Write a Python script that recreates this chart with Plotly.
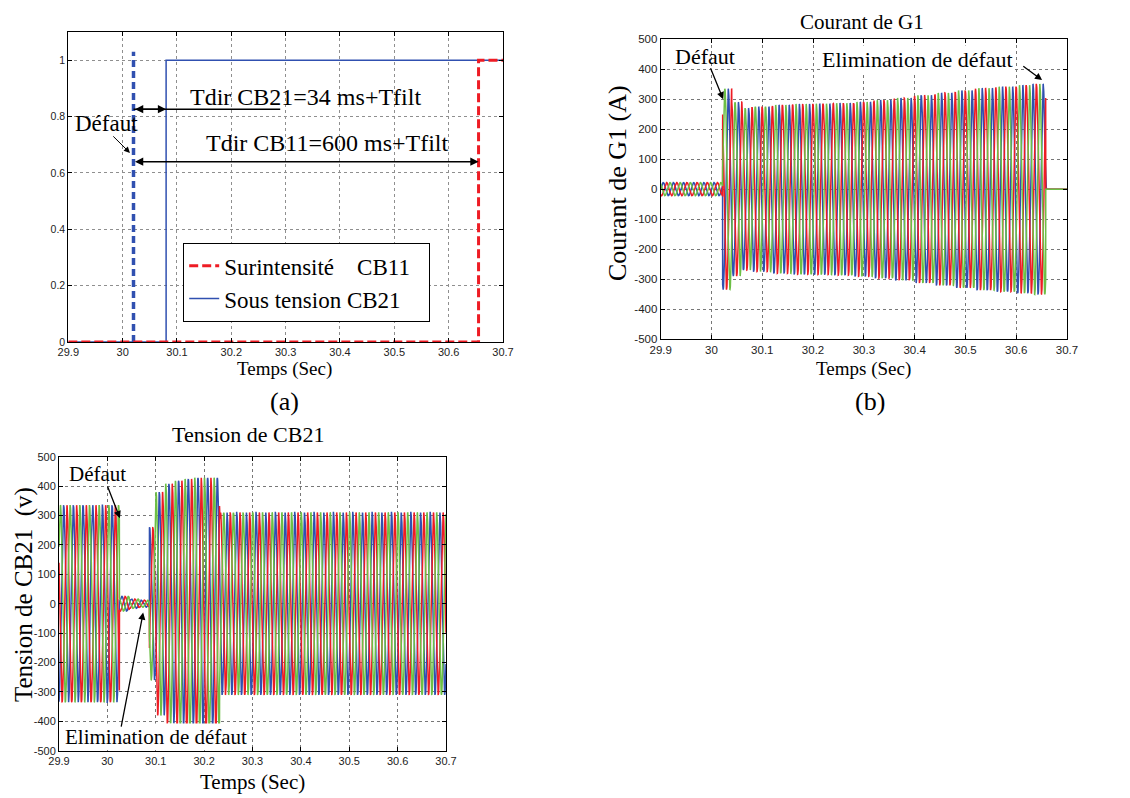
import numpy as np
import plotly.graph_objects as go

# ---------------- data ----------------
X_TICKS = [29.9, 30.0, 30.1, 30.2, 30.3, 30.4, 30.5, 30.6, 30.7]
X_TICK_LABELS = ["29.9", "30", "30.1", "30.2", "30.3", "30.4", "30.5", "30.6", "30.7"]
A_Y_TICKS = [0, 0.2, 0.4, 0.6, 0.8, 1.0]
A_Y_TICK_LABELS = ["0", "0.2", "0.4", "0.6", "0.8", "1"]
BC_Y_TICKS = [-500, -400, -300, -200, -100, 0, 100, 200, 300, 400, 500]
BC_Y_TICK_LABELS = ["-500", "-400", "-300", "-200", "-100", "0", "100", "200", "300", "400", "500"]

# (a) trip signals
CB11_T = [29.9, 30.655, 30.655, 30.7]
CB11_STATE = [0, 0, 1, 1]
CB21_T = [29.9, 30.08, 30.08, 30.7]
CB21_STATE = [0, 0, 1, 1]
FAULT_MARK_T = [30.02, 30.02]
FAULT_MARK_Y = [0, 1.03]

# waveform carrier frequency (Hz)
FREQ_HZ = 50.0
SAMPLE_STEP = 0.0002

# (b) generator current: segment start times, peak amplitude (A), phase-A peak reference time
I_SEG_START = [29.9, 30.022, 30.04, 30.06, 30.08, 30.12, 30.16, 30.2, 30.24, 30.28,
               30.32, 30.36, 30.4, 30.44, 30.48, 30.52, 30.56, 30.6, 30.63]
I_SEG_AMP = [22, 335, 290, 270, 275, 281, 284, 285, 287, 291,
             297, 304, 313, 321, 329, 337, 342, 347, 351]
I_SEG_REF = [29.905, 30.033, 30.033, 30.033, 30.033, 30.033, 30.033, 30.033, 30.033, 30.033,
             30.033, 30.033, 30.033, 30.033, 30.033, 30.033, 30.033, 30.033, 30.033]
I_TRIP = 30.658

# (c) CB21 voltage: segment start times, peak amplitude (V), phase-A peak reference time
V_SEG_START = [29.9, 30.025, 30.045, 30.065, 30.087, 30.1, 30.12, 30.14, 30.16, 30.18, 30.232]
V_SEG_AMP = [335, 25, 16, 12, 260, 380, 408, 418, 424, 428, 310]
V_SEG_REF = [30.0097, 30.03, 30.03, 30.03, 30.0873, 30.0873, 30.0873, 30.0873, 30.0873, 30.0873, 30.0873]

PHASE_COLORS = ["#3050B0", "#EE1C24", "#6CBF45"]
RED = "#EE1C24"
BLUE = "#3050B0"

# ---------------- build waveforms ----------------
n = int(round((30.7 - 29.9) / SAMPLE_STEP)) + 1
t = 29.9 + np.arange(n) * SAMPLE_STEP


def three_phase(tt, seg_start, seg_amp, seg_ref, t_stop=None):
    idx = np.searchsorted(np.array(seg_start), tt, side="right") - 1
    idx = np.clip(idx, 0, len(seg_start) - 1)
    amp = np.array(seg_amp, dtype=float)[idx]
    ref = np.array(seg_ref, dtype=float)[idx]
    w = 2 * np.pi * FREQ_HZ
    out = []
    for k in range(3):
        v = amp * np.cos(w * (tt - ref) - 2 * np.pi * k / 3)
        if t_stop is not None:
            v = np.where(tt >= t_stop, 0.0, v)
        out.append(v)
    return out


i_abc = three_phase(t, I_SEG_START, I_SEG_AMP, I_SEG_REF, I_TRIP)
v_abc = three_phase(t, V_SEG_START, V_SEG_AMP, V_SEG_REF)

# ---------------- figure ----------------
# the page body has an 8px margin, so the figure is shifted by 8px in both directions
OFF = 8
W, H = 1130 - OFF, 798 - OFF


def px(x):
    return (x - OFF) / W


def py(y):
    return 1 - (y - OFF) / H


fig = go.Figure()

# (a)
fig.add_trace(go.Scatter(x=CB21_T, y=CB21_STATE, mode="lines",
                         name="Sous tension CB21\u00a0\u00a0\u00a0\u00a0",
                         line=dict(color=BLUE, width=1.5), xaxis="x", yaxis="y", legendrank=2))
fig.add_trace(go.Scatter(x=FAULT_MARK_T, y=FAULT_MARK_Y, mode="lines", showlegend=False,
                         line=dict(color=BLUE, width=3.5, dash="7px,4px"), xaxis="x", yaxis="y"))
fig.add_trace(go.Scatter(x=CB11_T, y=CB11_STATE, mode="lines",
                         name="Surintensité\u00a0\u00a0\u00a0\u00a0CB11\u00a0\u00a0",
                         line=dict(color=RED, width=3, dash="9px,4px"), xaxis="x", yaxis="y", legendrank=1))

# (b)
for k in range(3):
    fig.add_trace(go.Scatter(x=t, y=i_abc[k], mode="lines", showlegend=False,
                             line=dict(color=PHASE_COLORS[k], width=1.5), xaxis="x2", yaxis="y2"))
# (c)
for k in range(3):
    fig.add_trace(go.Scatter(x=t, y=v_abc[k], mode="lines", showlegend=False,
                             line=dict(color=PHASE_COLORS[k], width=1.5), xaxis="x3", yaxis="y3"))


def axis_style(domain, anchor, ticks, labels, rng, size=11, grid="#8f8f8f"):
    return dict(domain=domain, anchor=anchor, range=rng, tickmode="array", tickvals=ticks, ticktext=labels,
                showline=True, linecolor="black", linewidth=1, mirror="ticks", ticks="inside", ticklen=4,
                tickcolor="black", showgrid=True, gridcolor=grid, griddash="dot", gridwidth=1,
                zeroline=False, fixedrange=True, automargin=False,
                tickfont=dict(family="Liberation Sans, Arial, sans-serif", size=size, color="#222"))


fig.update_layout(
    template="none",
    width=W, height=H, margin=dict(l=0, r=0, t=0, b=0, pad=0, autoexpand=False),
    paper_bgcolor="white", plot_bgcolor="white",
    xaxis=axis_style([px(68.3), px(503)], "y", X_TICKS, X_TICK_LABELS, [29.9, 30.7]),
    yaxis=axis_style([py(342), py(32)], "x", A_Y_TICKS, A_Y_TICK_LABELS, [0, 1.1], size=10.5),
    xaxis2=axis_style([px(660.7), px(1067)], "y2", X_TICKS, X_TICK_LABELS, [29.9, 30.7], size=11.5, grid="#777"),
    yaxis2=axis_style([py(339), py(39.3)], "x2", BC_Y_TICKS, BC_Y_TICK_LABELS, [-500, 500], size=11.5, grid="#777"),
    xaxis3=axis_style([px(59), px(446)], "y3", X_TICKS, X_TICK_LABELS, [29.9, 30.7], grid="#777"),
    yaxis3=axis_style([py(750.7), py(456.7)], "x3", BC_Y_TICKS, BC_Y_TICK_LABELS, [-500, 500], grid="#777"),
    showlegend=True,
    legend=dict(x=px(183), y=py(243), xanchor="left", yanchor="top", bgcolor="white",
                bordercolor="black", borderwidth=1.2,
                font=dict(family="Liberation Serif, Times New Roman, serif", size=23, color="black"),
                tracegroupgap=0),
)

SERIF = "Liberation Serif, Times New Roman, serif"
ann = []


def text_ann(text, x, y, size, xref="paper", yref="paper", angle=0, bg=None, xanchor="center", yanchor="middle"):
    d = dict(text=text, x=x, y=y, xref=xref, yref=yref, showarrow=False, textangle=angle,
             xanchor=xanchor, yanchor=yanchor, font=dict(family=SERIF, size=size, color="black"))
    if bg:
        d["bgcolor"] = bg
    ann.append(d)


def arrow_ann(x, y, ax, ay, xref, yref, both=False, width=1.3, head=2, size=1.1):
    ann.append(dict(text="", x=x, y=y, ax=ax, ay=ay, xref=xref, yref=yref, axref=xref, ayref=yref,
                    showarrow=True, arrowhead=head, arrowsize=size, arrowwidth=width, arrowcolor="black",
                    arrowside="end+start" if both else "end", standoff=0, startstandoff=0,
                    startarrowhead=head, startarrowsize=size))


# (a) texts
text_ann("Tdir CB21=34 ms+Tfilt", 30.3365, 0.87, 24, "x", "y")
text_ann("Tdir CB11=600 ms+Tfilt", 30.377, 0.706, 24, "x", "y")
text_ann("Défaut", 29.971, 0.774, 23, "x", "y")
arrow_ann(30.08, 0.826, 30.02, 0.826, "x", "y", both=True, width=1.5)
arrow_ann(30.655, 0.64, 30.02, 0.64, "x", "y", both=True, width=1.5)
arrow_ann(30.0135, 0.671, 29.98, 0.735, "x", "y", width=1.0, size=1.2)
text_ann("Temps (Sec)", px(284), py(369), 19)
text_ann("(a)", px(284), py(401), 26)

# (b) texts
text_ann("Courant de G1", px(862), 1.0, 21, yanchor="top")
text_ann("Courant de G1 (A)", px(618), py(183), 26, angle=-90)
text_ann("Temps (Sec)", px(863), py(369), 19)
text_ann("(b)", px(870), py(401), 26)
text_ann("Défaut", 29.988, 441, 22, "x2", "y2")
arrow_ann(30.023, 300, 29.997, 408, "x2", "y2", width=1.3)
text_ann("Elimination de défaut", 30.4066, 431, 22, "x2", "y2", bg="white")
arrow_ann(30.651, 364, 30.611, 414, "x2", "y2", width=1.3)

# (c) texts
text_ann("Tension de CB21", px(248), py(434), 22)
text_ann("Tension de CB21\u00a0\u00a0(v)", 0.0, py(595), 25, angle=-90, xanchor="left")
text_ann("Temps (Sec)", px(252), py(782), 21)
text_ann("Défaut", 29.9786, 441, 21, "x3", "y3")
arrow_ann(30.026, 291, 29.9992, 404, "x3", "y3", width=1.3)
text_ann("Elimination de défaut", 30.1005, -453, 21, "x3", "y3", bg="white")
arrow_ann(30.074, -30, 30.028, -423, "x3", "y3", width=1.3)

fig.update_layout(annotations=ann)

fig.add_shape(type="line", xref="x", yref="y", x0=30.02, y0=0.826, x1=30.29, y1=0.826,
              line=dict(color="black", width=1.5))

fig.write_html("out.html")
